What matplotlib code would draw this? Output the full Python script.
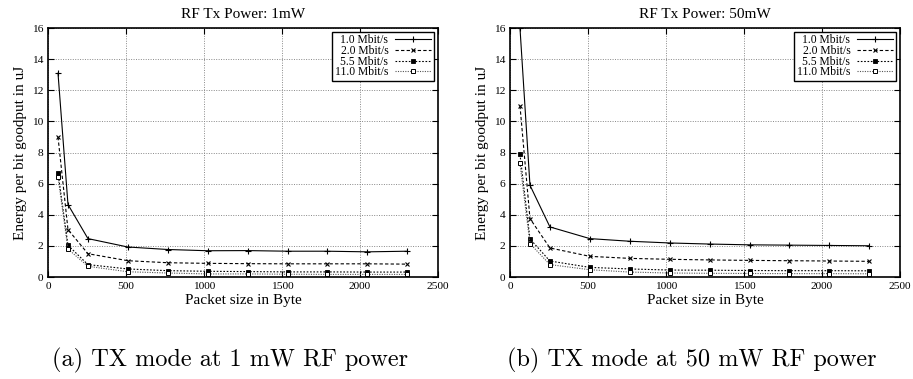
import matplotlib
matplotlib.use("Agg")
import matplotlib.pyplot as plt

packet_sizes = [64, 128, 256, 512, 768, 1024, 1280, 1536, 1792, 2048, 2304]
rate_labels = ["1.0 Mbit/s", "2.0 Mbit/s", "5.5 Mbit/s", "11.0 Mbit/s"]

# energy per bit goodput in uJ, RF Tx power 1 mW
energy_1mw = [
    [13.1, 4.66, 2.47, 1.93, 1.77, 1.69, 1.70, 1.66, 1.66, 1.62, 1.66],
    [9.0, 3.05, 1.50, 1.05, 0.92, 0.88, 0.86, 0.85, 0.85, 0.85, 0.83],
    [6.7, 2.04, 0.80, 0.52, 0.41, 0.37, 0.35, 0.33, 0.33, 0.32, 0.32],
    [6.44, 1.80, 0.69, 0.34, 0.26, 0.20, 0.20, 0.18, 0.17, 0.17, 0.17],
]
# energy per bit goodput in uJ, RF Tx power 50 mW
energy_50mw = [
    [16.0, 5.9, 3.22, 2.47, 2.30, 2.19, 2.12, 2.07, 2.05, 2.03, 2.01],
    [11.0, 3.76, 1.87, 1.33, 1.20, 1.14, 1.10, 1.07, 1.05, 1.03, 1.01],
    [7.88, 2.45, 1.03, 0.62, 0.52, 0.45, 0.44, 0.42, 0.41, 0.41, 0.40],
    [7.3, 2.15, 0.80, 0.47, 0.32, 0.26, 0.24, 0.23, 0.22, 0.22, 0.21],
]

titles = ["RF Tx Power: 1mW", "RF Tx Power: 50mW"]
captions = ["(a) TX mode at 1 mW RF power", "(b) TX mode at 50 mW RF power"]

styles = [
    dict(ls="-", marker="+", color="black", ms=5, mew=0.8),
    dict(ls=(0, (3, 2)), marker="x", color="black", ms=3.5, mew=0.8),
    dict(ls=(0, (1.5, 1.5)), marker="s", color="black", ms=2.5, mew=0.6),
    dict(ls=(0, (1, 1.2)), marker="s", color="#555555", mfc="white", mec="black", ms=3.5, mew=0.7),
]

plt.rcParams["font.family"] = ["Liberation Serif", "DejaVu Serif"]

fig = plt.figure(figsize=(9.13, 3.79), dpi=100)
lefts = [0.0526, 0.5586]
caption_x = [230 / 913, 692 / 913]

for i, data in enumerate([energy_1mw, energy_50mw]):
    ax = fig.add_axes([lefts[i], 0.269, 0.427, 0.657])
    for label, values, st in zip(rate_labels, data, styles):
        ax.plot(packet_sizes, values, lw=0.8, label=label, **st)
    ax.set_xlim(0, 2500)
    ax.set_ylim(0, 16)
    ax.set_xticks(range(0, 2501, 500))
    ax.set_yticks(range(0, 17, 2))
    ax.grid(True, ls=(0, (1, 1.5)), color="#888888", lw=0.7)
    ax.tick_params(direction="in", top=True, right=True, labelsize=8.2, length=4, width=0.8)
    for sp in ax.spines.values():
        sp.set_linewidth(1.2)
    ax.set_title(titles[i], fontsize=11, pad=7)
    ax.set_xlabel("Packet size in Byte", fontsize=11, labelpad=2)
    ax.set_ylabel("Energy per bit goodput in uJ", fontsize=11, labelpad=3)
    # gnuplot-like key: text first, line sample on the right
    leg = ax.legend(loc="upper right", markerfirst=False, fontsize=8.4, handlelength=3.1,
                    fancybox=False, framealpha=1, edgecolor="black", borderaxespad=0.3,
                    labelspacing=-0.12, borderpad=0.25, handletextpad=0.6)
    leg.get_frame().set_linewidth(1.0)
    fig.text(caption_x[i], 0.05, captions[i], ha="center", va="center",
             fontsize=17.5, family="cmr10")

fig.savefig("out.png", dpi=100)
